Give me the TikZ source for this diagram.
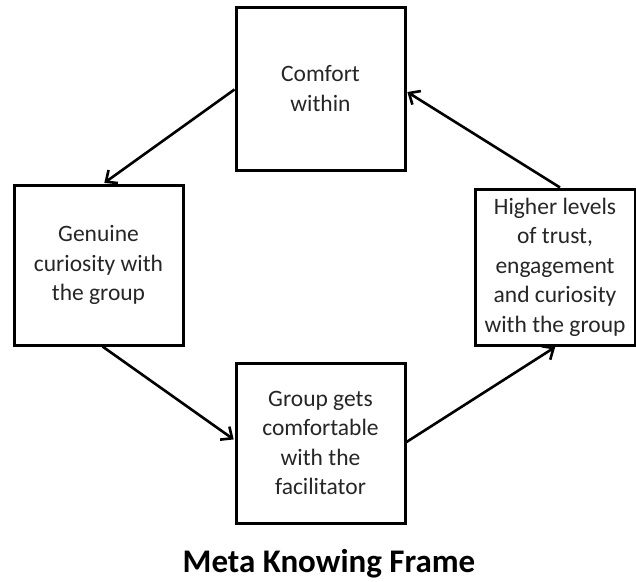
\documentclass[tikz,border=0pt]{standalone}
\usepackage{fontspec}
\setmainfont{Carlito}
\usetikzlibrary{arrows.meta,calc}
\begin{document}
\begin{tikzpicture}[x=1pt,y=-1pt,
  stagebox/.style={draw=black, line width=3pt, fill=white, align=center,
    font=\fontsize{23.5}{29.5}\selectfont, text=black!85, inner sep=0pt},
  flow/.style={line width=2.6pt, -{Straight Barb[length=9pt,width=16pt,line width=2.6pt]}, shorten >=1pt}]
  \useasboundingbox (0,0) rectangle (636,581);
  % the four stages of the cycle
  \node[stagebox, minimum width=169pt, minimum height=163pt] (top) at (320.5,88.5)
    {Comfort\\within};
  \node[stagebox, minimum width=169pt, minimum height=160pt] (left) at (98.5,265)
    {Genuine\\curiosity with\\the group};
  \node[stagebox, minimum width=160pt, minimum height=156pt] (right) at (555,267)
    {Higher levels\\of trust,\\engagement\\and curiosity\\with the group};
  \node[stagebox, minimum width=169pt, minimum height=160pt] (bottom) at (320.5,443)
    {Group gets\\comfortable\\with the\\facilitator};
  % connectors around the cycle
  \draw[flow] ($(top.west)+(0,1)$) -- ($(left.north)+(5,0)$);
  \draw[flow] ($(left.south)+(4,0)$) -- ($(bottom.west)+(0,-3)$);
  \draw[flow] ($(bottom.east)+(0,-1)$) -- ($(right.south)+(1,0)$);
  \draw[flow] ($(right.north)+(5,0)$) -- ($(top.east)+(0,3)$);
  % caption
  \node[font=\fontsize{33}{38}\bfseries\selectfont, anchor=base] (caption) at (329,572) {Meta Knowing Frame};
\end{tikzpicture}
\end{document}
